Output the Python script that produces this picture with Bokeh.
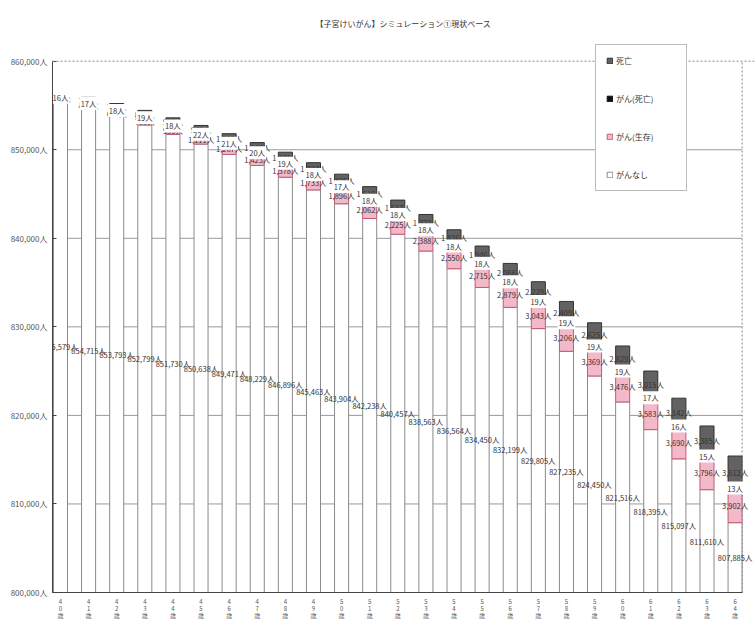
from bokeh.plotting import figure
from bokeh.models import ColumnDataSource, FixedTicker, Legend, LegendItem, Range1d, Title, Span
from bokeh.core.properties import value
from bokeh.embed import file_html
from bokeh.resources import INLINE

FONT = "Noto Sans CJK JP"

# ---- data ----
ages = list(range(40, 65))
age_labels = [f"{a // 10}\n{a % 10}\n歳" for a in ages]
no_cancer = [855579, 854715, 853793, 852799, 851730, 850638, 849471, 848229, 846896,
             845463, 843904, 842238, 840457, 838563, 836564, 834450, 832199, 829805,
             827235, 824450, 821516, 818395, 815097, 811610, 807885]
cancer_alive = [330, 487, 643, 799, 955, 1111, 1267, 1423, 1578, 1733, 1896, 2062, 2225,
                2388, 2550, 2715, 2879, 3043, 3206, 3369, 3476, 3583, 3690, 3796, 3902]
cancer_dead = [16, 17, 18, 19, 18, 22, 21, 20, 19, 18, 17, 18, 18, 18, 18, 18, 18, 19,
               19, 19, 19, 17, 16, 15, 13]
other_dead = [640, 700, 765, 830, 900, 975, 1055, 1140, 1231, 1327, 1425, 1519, 1617,
              1722, 1836, 1946, 2066, 2229, 2409, 2625, 2829, 3015, 3142, 3385, 3612]
y_ticks = [800000, 810000, 820000, 830000, 840000, 850000, 860000]
y_tick_labels = [f"{t:,}人" for t in y_ticks]
series_names = ["がんなし", "がん(生存)", "がん(死亡)", "死亡"]
title_text = "【子宮けいがん】シミュレーション①現状ベース"

# ---- axis settings ----
Y_MIN, Y_TOP, Y_VIEW_END = 800000, 860000, 862000
X_START, X_LINE, X_VIEW_END = 39.716, 64.25, 64.69

# ---- derived label positions ----
y_nc = [(Y_MIN + a) / 2 for a in no_cancer]
y_ca = [a + b / 2 for a, b in zip(no_cancer, cancer_alive)]
y_cd = [a + b + c / 2 for a, b, c in zip(no_cancer, cancer_alive, cancer_dead)]
y_od = [a + b + c + d / 2 for a, b, c, d in zip(no_cancer, cancer_alive, cancer_dead, other_dead)]

src = ColumnDataSource(dict(
    age=ages, nc=no_cancer, ca=cancer_alive, cd=cancer_dead, od=other_dead,
    y_nc=y_nc, y_ca=y_ca, y_cd=y_cd, y_od=y_od,
    t_nc=[f"{v:,}人" for v in no_cancer],
    t_ca=[f"{v:,}人" for v in cancer_alive],
    t_cd=[f"{v:,}人" for v in cancer_dead],
    t_od=[f"{v:,}人" for v in other_dead],
))

p = figure(width=755, height=629, output_backend="svg", toolbar_location=None,
           x_range=Range1d(X_START, X_VIEW_END), y_range=Range1d(Y_MIN, Y_VIEW_END),
           min_border_left=52, min_border_right=1, min_border_top=41, min_border_bottom=37)

p.title = Title(text=title_text, align="center", text_font=FONT, text_font_size="8px",
                text_font_style="normal", text_color="#333333", standoff=30)

# horizontal gridlines (stop at the dotted right border)
grid_ticks = y_ticks[:-1]
p.segment(x0=[X_START] * len(grid_ticks), x1=[X_LINE] * len(grid_ticks),
          y0=grid_ticks, y1=grid_ticks, line_color="#9a9a9a", line_width=1)

renderers = p.vbar_stack(["nc", "ca", "cd", "od"], x="age", width=0.5, source=src,
                         fill_color=["#ffffff", "#f3b9c9", "#111111", "#626262"],
                         line_color=["#8a8a8a", "#c25b78", "#111111", "#333333"],
                         line_width=1)

# dotted plot-area border (top and right)
p.add_layout(Span(location=Y_TOP, dimension="width", line_color="#888888",
                  line_dash="2 2", line_width=1))
p.segment(x0=[X_LINE], x1=[X_LINE], y0=[Y_MIN], y1=[Y_TOP],
          line_color="#888888", line_dash="2 2", line_width=1)

common = dict(text_font=value(FONT), text_font_size="7.5px", text_color="#333333",
              text_align="center", text_baseline="middle", source=src)
p.text(x="age", y="y_nc", text="t_nc", **common)
p.text(x="age", y="y_ca", text="t_ca", **common)
p.text(x="age", y="y_od", text="t_od", **common)
p.text(x="age", y="y_cd", text="t_cd", background_fill_color="white", padding=1, **common)

# axes
p.yaxis.bounds = (Y_MIN, Y_TOP)
p.yaxis.ticker = FixedTicker(ticks=y_ticks)
p.yaxis.major_label_overrides = dict(zip(y_ticks, y_tick_labels))
p.yaxis.major_label_text_font = FONT
p.yaxis.major_label_text_font_size = "8px"
p.yaxis.major_label_text_color = "#555555"
p.yaxis.major_tick_in = 4
p.yaxis.major_tick_out = 0
p.yaxis.minor_tick_line_color = None
p.yaxis.major_label_standoff = 5
p.yaxis.axis_line_color = "#444444"
p.yaxis.major_tick_line_color = "#444444"

p.xaxis.bounds = (X_START, X_LINE)
p.xaxis.ticker = FixedTicker(ticks=ages)
p.xaxis.major_label_overrides = dict(zip(ages, age_labels))
p.xaxis.major_label_text_font = FONT
p.xaxis.major_label_text_font_size = "6px"
p.xaxis.major_label_text_line_height = 0.8
p.xaxis.major_label_text_color = "#555555"
p.xaxis.major_tick_in = 0
p.xaxis.major_tick_out = 0
p.xaxis.minor_tick_line_color = None
p.xaxis.major_label_standoff = 4
p.xaxis.axis_line_color = "#444444"

p.xgrid.grid_line_color = None
p.ygrid.grid_line_color = None
p.outline_line_color = None

items = [LegendItem(label=series_names[i], renderers=[renderers[i]]) for i in [3, 2, 1, 0]]
legend = Legend(items=items, location=(543, 401), orientation="vertical",
                label_text_font=FONT, label_text_font_size="8px", label_text_color="#333333",
                glyph_width=7, glyph_height=7, label_height=10, label_width=60,
                spacing=27, padding=10, margin=0, label_standoff=3,
                border_line_color="#777777", border_line_width=1,
                background_fill_color="white", background_fill_alpha=1)
p.add_layout(legend, "center")

open("out.html", "w").write(file_html(p, INLINE))
